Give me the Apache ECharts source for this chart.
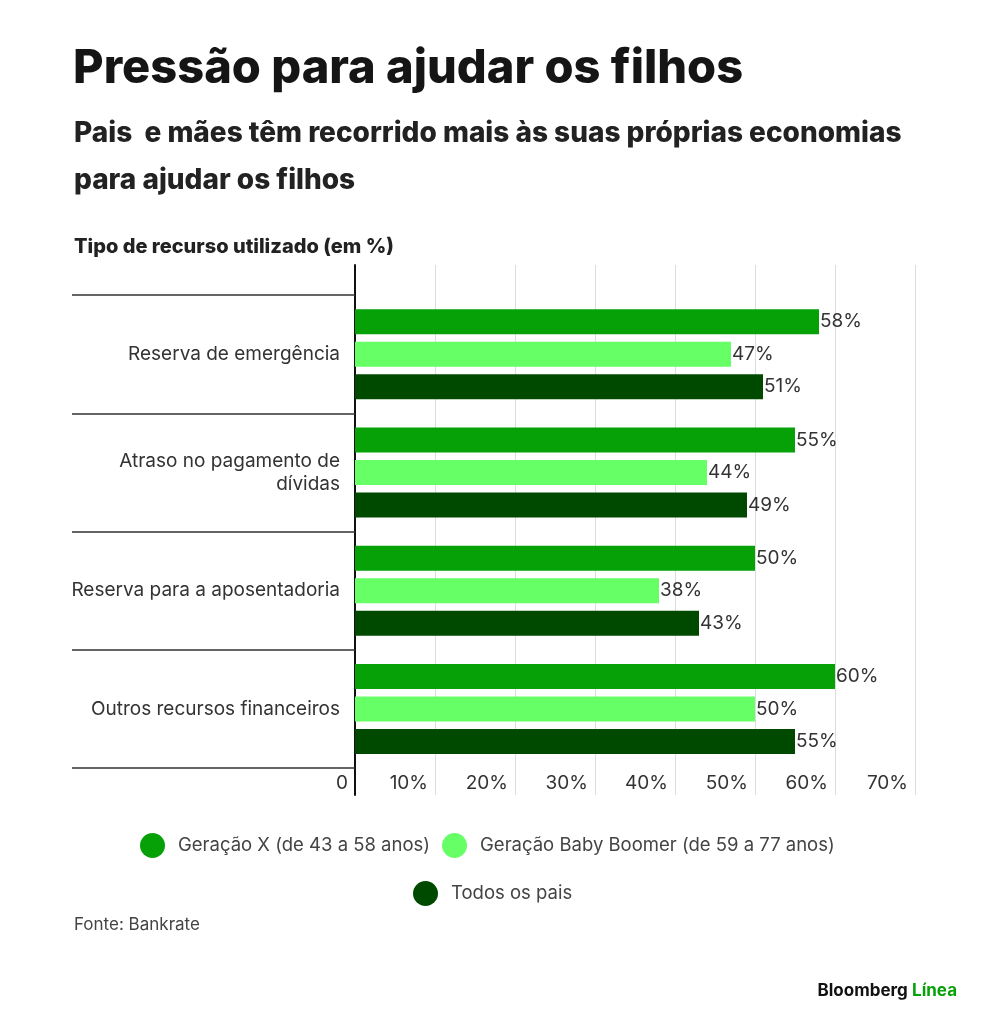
<!DOCTYPE html>
<html>
<head>
<meta charset="utf-8">
<script src="https://cdn.jsdelivr.net/npm/echarts@6/dist/echarts.min.js"></script>
<style>
  html, body { margin: 0; padding: 0; background: #fff; }
  #chart { width: 1000px; height: 1032px; }
</style>
</head>
<body>
<div id="chart"></div>
<script>
// dados
var categorias = ['Reserva de emergência', 'Atraso no pagamento de\ndívidas', 'Reserva para a aposentadoria', 'Outros recursos financeiros'];
var geracaoX = [58, 55, 50, 60];
var babyBoomer = [47, 44, 38, 50];
var todosPais = [51, 49, 43, 55];
var nomesSeries = ['Geração X (de 43 a 58 anos)', 'Geração Baby Boomer (de 59 a 77 anos)', 'Todos os pais'];
var cores = ['#06a106', '#66ff66', '#004a00'];

var fonte = 'Inter, "Noto Sans", sans-serif';
var chart = echarts.init(document.getElementById('chart'));

function barra(nome, dados, cor) {
  return {
    name: nome,
    type: 'bar',
    xAxisIndex: 0,
    yAxisIndex: 0,
    data: dados,
    barWidth: 25,
    barGap: '30%',
    itemStyle: { color: cor },
    label: {
      show: true,
      position: 'right',
      distance: 1,
      formatter: '{c}%',
      fontFamily: fonte,
      fontSize: 19,
      color: '#333'
    }
  };
}

var option = {
  backgroundColor: '#fff',
  animation: false,
  textStyle: { fontFamily: fonte },
  title: [
    {
      text: 'Pressão para ajudar os filhos',
      left: 68, top: 40,
      textStyle: { fontSize: 47, fontWeight: 800, color: '#151515', fontFamily: fonte, letterSpacing: -3 }
    },
    {
      text: 'Pais  e mães têm recorrido mais às suas próprias economias\npara ajudar os filhos',
      left: 69, top: 105,
      textStyle: { fontSize: 28, fontWeight: 800, color: '#222', lineHeight: 47, fontFamily: fonte, letterSpacing: -0.5 }
    },
    {
      text: 'Tipo de recurso utilizado (em %)',
      left: 69, top: 232,
      textStyle: { fontSize: 20, fontWeight: 800, color: '#222', fontFamily: fonte, letterSpacing: -0.2 }
    },
    {
      text: 'Fonte: Bankrate',
      left: 69, top: 911,
      textStyle: { fontSize: 17, fontWeight: 400, color: '#444', fontFamily: fonte, letterSpacing: -0.3 }
    },
    {
      text: '{a|Bloomberg} {b|Línea}',
      right: 38, top: 977,
      textStyle: {
        rich: {
          a: { fontSize: 17, fontWeight: 700, color: '#111', fontFamily: fonte },
          b: { fontSize: 17, fontWeight: 700, color: '#06a106', fontFamily: fonte }
        }
      }
    }
  ],
  legend: [
    {
      data: [nomesSeries[0], nomesSeries[1]],
      left: 135, top: 828,
      icon: 'circle', itemWidth: 25, itemHeight: 25, itemGap: 12,
      textStyle: { fontSize: 18.5, color: '#444', fontFamily: fonte, padding: [0, 0, 0, 8], letterSpacing: -0.2 }
    },
    {
      data: [nomesSeries[2]],
      left: 408, top: 876,
      icon: 'circle', itemWidth: 25, itemHeight: 25,
      textStyle: { fontSize: 18.5, color: '#444', fontFamily: fonte, padding: [0, 0, 0, 8], letterSpacing: -0.2 }
    }
  ],
  grid: [
    { left: 355, right: 85, top: 295, height: 473 },
    { left: 355, right: 85, top: 265, height: 530 }
  ],
  xAxis: [
    { gridIndex: 0, type: 'value', min: 0, max: 70, interval: 10, show: false },
    {
      gridIndex: 1, type: 'value', min: 0, max: 70, interval: 10,
      axisLine: { show: false },
      axisTick: { show: false },
      splitLine: { show: true, lineStyle: { color: '#dcdcdc', width: 1 } },
      axisLabel: {
        inside: true,
        margin: 2,
        align: 'right',
        padding: [0, 7, 0, 0],
        fontSize: 19,
        color: '#333',
        fontFamily: fonte,
        formatter: function (v) { return v === 0 ? '0' : v + '%'; }
      }
    }
  ],
  yAxis: [
    {
      gridIndex: 0, type: 'category', data: categorias, inverse: true,
      axisLine: { show: false },
      axisTick: { show: true, length: 283, lineStyle: { color: '#333', width: 1.5 } },
      axisLabel: { margin: 15, fontSize: 19, color: '#333', lineHeight: 23, fontFamily: fonte, letterSpacing: -0.2 },
      splitLine: { show: false }
    },
    {
      gridIndex: 1, type: 'value', min: 0, max: 1,
      axisLine: { show: true, lineStyle: { color: '#111', width: 2 } },
      axisTick: { show: false },
      axisLabel: { show: false },
      splitLine: { show: false }
    }
  ],
  series: [
    barra(nomesSeries[0], geracaoX, cores[0]),
    barra(nomesSeries[1], babyBoomer, cores[1]),
    barra(nomesSeries[2], todosPais, cores[2])
  ]
};

chart.setOption(option);
</script>
</body>
</html>
